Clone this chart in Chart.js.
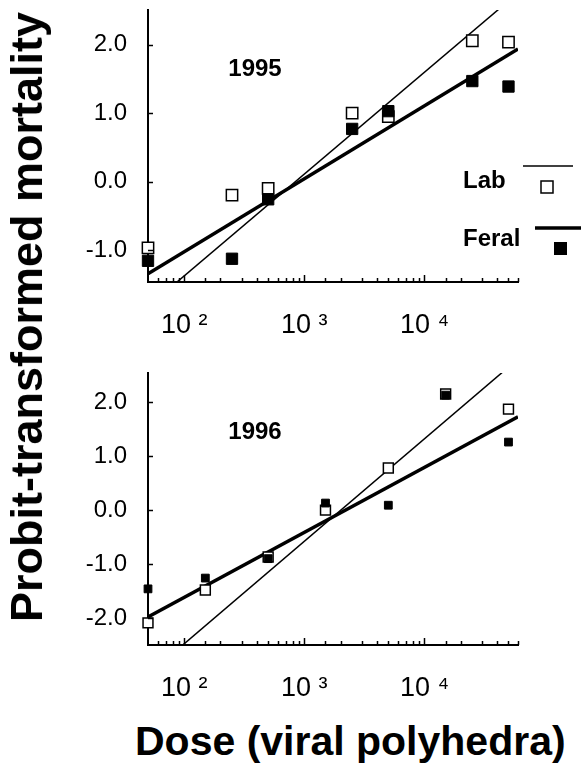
<!DOCTYPE html>
<html>
<head>
<meta charset="utf-8">
<script src="https://cdn.jsdelivr.net/npm/chart.js@4/dist/chart.umd.min.js"></script>
<style>
  body { margin: 0; background: #fff; width: 581px; height: 768px; position: relative; overflow: hidden; font-family: "Liberation Sans", Arial, sans-serif; }
  canvas { position: absolute; left: 0; }
  #chart1995 { top: 0; }
  #chart1996 { top: 363px; }
  .ytitle { position: absolute; left: 27px; top: 317px; transform: translate(-50%, -50%) rotate(-90deg); font-weight: bold; font-size: 45px; white-space: nowrap; color: #000; }
  .xtitle { position: absolute; left: 135px; top: 718px; font-weight: bold; font-size: 41px; white-space: nowrap; color: #000; }
</style>
</head>
<body>
<canvas id="chart1995" width="581" height="342"></canvas>
<canvas id="chart1996" width="581" height="342"></canvas>
<div class="ytitle">Probit-transformed mortality</div>
<div class="xtitle">Dose (viral polyhedra)</div>
<script>
// 1995 panel
const doses1995 = [50, 250, 500, 2500, 5000, 25000, 50000];
const lab1995 = [-0.97, -0.20, -0.10, 1.00, 0.95, 2.06, 2.04];
const feral1995 = [-1.16, -1.13, -0.26, 0.77, 1.03, 1.47, 1.39];

// 1996 panel
const doses1996 = [50, 150, 500, 1500, 5000, 15000, 50000];
const lab1996 = [-2.09, -1.48, -0.87, 0.00, 0.78, 2.15, 1.87];
const feral1996 = [-1.46, -1.26, -0.90, 0.13, 0.09, 2.13, 1.26];

// fitted regression lines, given at the two ends of the dose axis
const fitDoses = [50, 60000];
const labFit1995 = [-1.83, 2.76];
const feralFit1995 = [-1.35, 1.94];
const labFit1996 = [-3.05, 2.80];
const feralFit1996 = [-1.98, 1.73];

const yTicks1995 = [-1, 0, 1, 2];
const yTicks1996 = [-2, -1, 0, 1, 2];
const xTickLabels = { 100: '10 \u00B2', 1000: '10 \u00B3', 10000: '10 \u2074' };

const pairs = (xs, ys) => xs.map((x, i) => ({ x: x, y: ys[i] }));

const tickMarks = {
  id: 'tickMarks',
  afterDraw(chart) {
    const ctx = chart.ctx;
    const xs = chart.scales.x, ys = chart.scales.y;
    const area = chart.chartArea;
    ctx.save();
    ctx.strokeStyle = '#000';
    ctx.lineWidth = 1.5;
    xs.ticks.forEach(t => {
      if (t.value <= xs.min) return;
      const px = Math.round(xs.getPixelForValue(t.value)) + 0.5;
      const lg = Math.log10(t.value);
      const len = Math.abs(lg - Math.round(lg)) < 1e-9 ? 7 : 4;
      ctx.beginPath();
      ctx.moveTo(px, area.bottom);
      ctx.lineTo(px, area.bottom - len);
      ctx.stroke();
    });
    ys.ticks.forEach(t => {
      const py = Math.round(ys.getPixelForValue(t.value)) + 0.5;
      ctx.beginPath();
      ctx.moveTo(area.left, py);
      ctx.lineTo(area.left + 5, py);
      ctx.stroke();
    });
    ctx.restore();
  }
};

const yearLabel = {
  id: 'yearLabel',
  afterDraw(chart, args, opts) {
    const ctx = chart.ctx;
    ctx.save();
    ctx.fillStyle = '#000';
    ctx.font = 'bold 24px "Liberation Sans", Arial, sans-serif';
    ctx.textAlign = 'center';
    ctx.textBaseline = 'middle';
    ctx.fillText(opts.text, 255, 69);
    ctx.restore();
  }
};

const panelLegend = {
  id: 'panelLegend',
  afterDraw(chart, args, opts) {
    if (!opts.show) return;
    const ctx = chart.ctx;
    ctx.save();
    ctx.fillStyle = '#000';
    ctx.strokeStyle = '#000';
    ctx.font = 'bold 24px "Liberation Sans", Arial, sans-serif';
    ctx.textAlign = 'left';
    ctx.textBaseline = 'middle';
    ctx.fillText('Lab', 463, 181);
    ctx.fillText('Feral', 463, 239);
    ctx.lineWidth = 1.5;
    ctx.beginPath(); ctx.moveTo(523, 166); ctx.lineTo(573, 166); ctx.stroke();
    ctx.fillStyle = '#fff';
    ctx.fillRect(541, 181, 12, 12);
    ctx.strokeRect(541, 181, 12, 12);
    ctx.lineWidth = 3.5;
    ctx.beginPath(); ctx.moveTo(535, 228); ctx.lineTo(581, 228); ctx.stroke();
    ctx.fillStyle = '#000';
    ctx.fillRect(554, 242, 13, 13);
    ctx.restore();
  }
};

function makePanel(id, year, doses, lab, feral, labFit, feralFit, yMin, yMax, yTicks, labR, feralR, showLegend) {
  return new Chart(document.getElementById(id), {
    type: 'scatter',
    data: {
      datasets: [
        { label: 'Feral', data: pairs(doses, feral), pointStyle: 'rect', pointRadius: feralR,
          backgroundColor: '#000', borderColor: '#000', borderWidth: 1, clip: false },
        { label: 'Lab', data: pairs(doses, lab), pointStyle: 'rect', pointRadius: labR,
          backgroundColor: '#fff', borderColor: '#000', borderWidth: 1.5, clip: false },
        { label: 'Lab fit', data: pairs(fitDoses, labFit), showLine: true, pointRadius: 0,
          borderColor: '#000', borderWidth: 1.5 },
        { label: 'Feral fit', data: pairs(fitDoses, feralFit), showLine: true, pointRadius: 0,
          borderColor: '#000', borderWidth: 3.5 }
      ]
    },
    options: {
      responsive: false,
      animation: false,
      devicePixelRatio: 1,
      layout: { padding: { left: 0, right: 63, top: 10, bottom: 0 } },
      plugins: {
        legend: { display: false },
        tooltip: { enabled: false },
        yearLabel: { text: year },
        panelLegend: { show: showLegend }
      },
      scales: {
        x: {
          type: 'logarithmic',
          min: 50,
          max: 60000,
          afterFit: s => { s.height = 60; s.paddingLeft = 0; s.paddingRight = 0; },
          grid: { display: true, drawOnChartArea: false, drawTicks: false },
          border: { display: true, color: '#000', width: 2 },
          ticks: {
            autoSkip: false,
            maxRotation: 0,
            padding: 27,
            color: '#000',
            font: { size: 27, family: '"Liberation Sans", Arial, sans-serif' },
            callback: v => xTickLabels[v] || ''
          }
        },
        y: {
          min: yMin,
          max: yMax,
          afterFit: s => { s.width = 148; s.paddingTop = 0; s.paddingBottom = 0; },
          afterBuildTicks: s => { s.ticks = yTicks.map(v => ({ value: v })); },
          grid: { display: true, drawOnChartArea: false, drawTicks: false },
          border: { display: true, color: '#000', width: 2 },
          ticks: {
            padding: 21,
            color: '#000',
            font: { size: 24, family: '"Liberation Sans", Arial, sans-serif' },
            callback: v => v.toFixed(1)
          }
        }
      }
    },
    plugins: [tickMarks, yearLabel, panelLegend]
  });
}

makePanel('chart1995', '1995', doses1995, lab1995, feral1995, labFit1995, feralFit1995,
  -1.47, 2.51, yTicks1995, 8, 8, true);
makePanel('chart1996', '1996', doses1996, lab1996, feral1996, labFit1996, feralFit1996,
  -2.5, 2.54, yTicks1996, 7, 5.5, false);
</script>
</body>
</html>
